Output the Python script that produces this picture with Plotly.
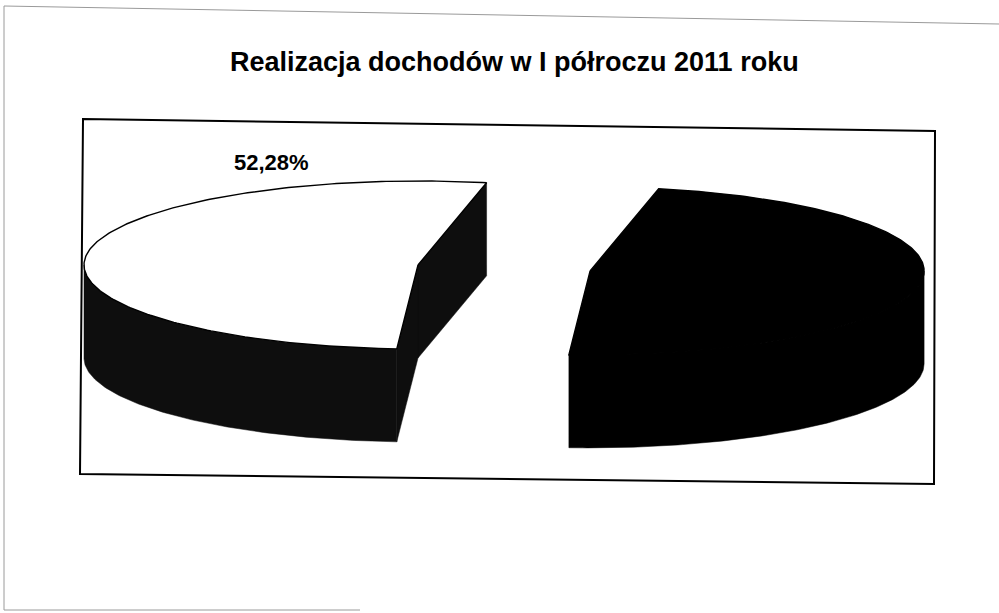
import numpy as np
import plotly.graph_objects as go

# ---- data ----
title_text = "Realizacja dochodów w I półroczu 2011 roku"
categories = ["Zrealizowane dochody", "Pozostałe dochody"]
values = [52.28, 47.72]
shown_labels = [True, False]

# ---- style / geometry (pixel space) ----
CX, CY = 418.0, 265.0      # centre of the pie's top face
RX, RY = 334.0, 84.0       # ellipse radii
DEPTH = 93.0               # height of the pie
FIRST_ANGLE = 78.15        # angle (deg, CCW from 3 o'clock) where first slice starts
EXPLODE = [0.0, 0.52]
TOP_COL = ["#ffffff", "#000000"]
SIDE_COL = ["#0e0e0e", "#000000"]
EDGE_COL = ["#000000", "#000000"]

fig = go.Figure()


def pt(theta_deg, ox, oy, down=0.0):
    t = np.radians(theta_deg)
    return CX + ox + RX * np.cos(t), CY + oy - RY * np.sin(t) + down


def add_poly(xs, ys, fill, line_col, lw):
    xs = list(xs) + [xs[0]]
    ys = list(ys) + [ys[0]]
    fig.add_trace(go.Scatter(x=xs, y=ys, mode="lines", fill="toself",
                             fillcolor=fill, line=dict(color=line_col, width=lw),
                             hoverinfo="skip", showlegend=False))


total = sum(values)
start = FIRST_ANGLE
for i, v in enumerate(values):
    span = 360.0 * v / total
    a, b = start, start + span
    mid = (a + b) / 2
    ox = EXPLODE[i] * RX * np.cos(np.radians(mid))
    oy = -EXPLODE[i] * RY * np.sin(np.radians(mid))

    # front side wall (where sin(theta) < 0)
    for k in range(-1, 3):
        s = max(a, 180 + 360 * k)
        t = min(b, 360 + 360 * k)
        if t > s:
            th = np.linspace(s, t, 120)
            tx, ty = pt(th, ox, oy)
            bx, by = pt(th[::-1], ox, oy, DEPTH)
            add_poly(np.concatenate([tx, bx]), np.concatenate([ty, by]),
                     SIDE_COL[i], SIDE_COL[i], 0.5)

    # radial cut faces facing the viewer
    for ang, visible in ((a, np.cos(np.radians(a)) > 0), (b, np.cos(np.radians(b)) < 0)):
        if visible and v < total:
            ex, ey = pt(ang, ox, oy)
            add_poly([CX + ox, ex, ex, CX + ox],
                     [CY + oy, ey, ey + DEPTH, CY + oy + DEPTH],
                     SIDE_COL[i], SIDE_COL[i], 0.5)

    # top face
    th = np.linspace(a, b, 240)
    tx, ty = pt(th, ox, oy)
    add_poly(np.concatenate([[CX + ox], tx]), np.concatenate([[CY + oy], ty]),
             TOP_COL[i], EDGE_COL[i], 1.4)
    start = b

annotations = [
    dict(x=514, y=62, xref="x", yref="y", text="<b>" + title_text + "</b>",
         showarrow=False, font=dict(family="Liberation Sans, Arial", size=27, color="#000")),
]
for i, v in enumerate(values):
    if shown_labels[i]:
        annotations.append(dict(x=271, y=162, xref="x", yref="y",
                                text="<b>" + f"{v:.2f}".replace(".", ",") + "%</b>",
                                showarrow=False,
                                font=dict(family="Liberation Sans, Arial", size=22, color="#000")))

shapes = [
    # outer (chart area) frame, grey, partly visible in the scan
    dict(type="line", xref="x", yref="y", x0=4, y0=6, x1=999, y1=24,
         line=dict(color="#9a9a9a", width=1)),
    dict(type="line", xref="x", yref="y", x0=4, y0=6, x1=4, y1=610,
         line=dict(color="#9a9a9a", width=1)),
    dict(type="line", xref="x", yref="y", x0=4, y0=610, x1=360, y1=610,
         line=dict(color="#9a9a9a", width=1)),
    # plot-area box
    dict(type="path", xref="x", yref="y",
         path="M 83,119 L 935,131 L 934,484 L 80,474 Z",
         line=dict(color="#000", width=2)),
]

fig.update_layout(
    width=999, height=613,
    margin=dict(l=0, r=0, t=0, b=0),
    paper_bgcolor="white", plot_bgcolor="white",
    showlegend=False,
    xaxis=dict(range=[0, 999], visible=False, fixedrange=True),
    yaxis=dict(range=[613, 0], visible=False, fixedrange=True),
    annotations=annotations,
    shapes=shapes,
)

fig.write_html("out.html", config={"displayModeBar": False},
               post_script="document.body.style.margin='0';document.body.style.overflow='hidden';")
